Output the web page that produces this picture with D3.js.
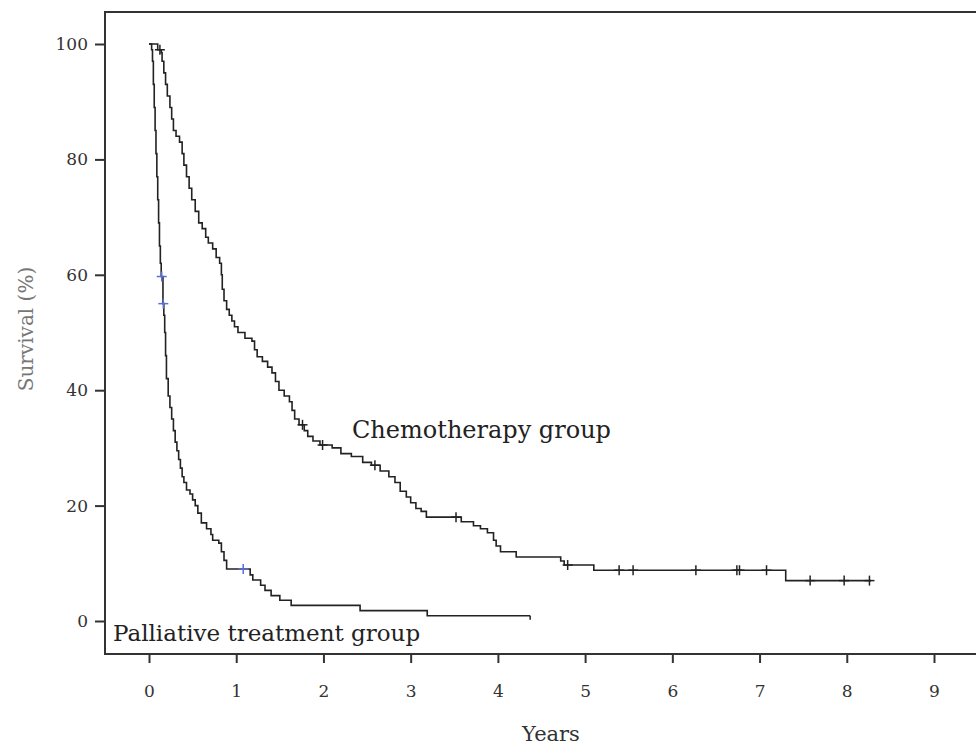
<!DOCTYPE html>
<html>
<head>
<meta charset="utf-8">
<script src="https://cdn.jsdelivr.net/npm/d3@7"></script>
<style>
  body { margin: 0; background: #fff; }
  text { font-family: 'DejaVu Serif', serif; }
</style>
</head>
<body>
<div id="chart"></div>
<script>
// Kaplan-Meier steps [years, survival %]
const chemoSteps = [
  [0, 100], [0.10, 99], [0.14, 98.5], [0.15, 97], [0.17, 95], [0.19, 93], [0.21, 91],
  [0.24, 89], [0.26, 87], [0.28, 85], [0.31, 84], [0.35, 83], [0.38, 81], [0.40, 79],
  [0.43, 77], [0.46, 75], [0.49, 73], [0.53, 71], [0.57, 69], [0.61, 68], [0.65, 66.5],
  [0.68, 65.5], [0.73, 64.5], [0.77, 63], [0.81, 62], [0.83, 60], [0.84, 57.5], [0.86, 55.5],
  [0.89, 54], [0.92, 53], [0.95, 52], [0.98, 51], [1.02, 50], [1.10, 49], [1.18, 48.5],
  [1.21, 47], [1.24, 45.8], [1.30, 45], [1.36, 44], [1.41, 43], [1.45, 41.5], [1.49, 40],
  [1.55, 39], [1.61, 38], [1.64, 36.5], [1.67, 35], [1.72, 34], [1.78, 33], [1.82, 32],
  [1.88, 31.2], [1.96, 30.5], [2.10, 30], [2.20, 29], [2.32, 28.5], [2.45, 27.5], [2.55, 27],
  [2.65, 26], [2.75, 25], [2.82, 24], [2.88, 22.5], [2.95, 21.5], [3.00, 20.5], [3.06, 19.5],
  [3.12, 19], [3.18, 18], [3.58, 17.2], [3.72, 16.5], [3.80, 16], [3.88, 15.3], [3.95, 14],
  [3.98, 13], [4.03, 12], [4.21, 11.1], [4.72, 10.4], [4.76, 9.7], [5.10, 8.8], [7.30, 7.0]
]
const chemoEnd = 8.28
const chemoCensor = [0.125, 1.76, 1.99, 2.59, 3.52, 4.80, 5.39, 5.55, 6.27, 6.74, 6.77, 7.08, 7.58, 7.97, 8.26]

const palliSteps = [
  [0, 100], [0.03, 99], [0.04, 97], [0.05, 93], [0.06, 89], [0.07, 85], [0.08, 81],
  [0.09, 77], [0.10, 73], [0.11, 69], [0.12, 65], [0.13, 62], [0.14, 59.7], [0.16, 55],
  [0.17, 53], [0.18, 50], [0.19, 46], [0.20, 42], [0.22, 39], [0.24, 37], [0.26, 35],
  [0.28, 33], [0.30, 31], [0.32, 29.5], [0.34, 28], [0.36, 26.5], [0.38, 25], [0.40, 24],
  [0.43, 22.7], [0.47, 22], [0.50, 21], [0.53, 20], [0.56, 18.7], [0.60, 17], [0.66, 16],
  [0.71, 15], [0.73, 14], [0.80, 13.5], [0.83, 12], [0.86, 10.5], [0.89, 9.0], [1.16, 8.0],
  [1.19, 7.1], [1.28, 6.2], [1.33, 5.3], [1.40, 4.4], [1.50, 3.6], [1.63, 2.7], [2.42, 1.8],
  [3.19, 0.9]
]
const palliEnd = 4.37
const palliCensor = [0.146, 0.164, 1.08]

const xTicks = [0, 1, 2, 3, 4, 5, 6, 7, 8, 9]
const yTicks = [0, 20, 40, 60, 80, 100]

const W = 976
const H = 745
const frame = { left: 105, top: 12, right: 976, bottom: 654 }

const svg = d3.select('#chart')
  .append('svg')
  .attr('width', W)
  .attr('height', H)

const x = d3.scaleLinear().domain([0, 9]).range([149, 934])
const y = d3.scaleLinear().domain([0, 100]).range([621, 44])

// frame lines
svg.append('path')
  .attr('d', 'M' + frame.right + ',' + frame.top + 'H' + frame.left + 'V' + frame.bottom + 'H' + frame.right)
  .attr('fill', 'none')
  .attr('stroke', '#333')
  .attr('stroke-width', 2)

// Y axis
const yAxis = svg.append('g')
  .attr('transform', 'translate(' + frame.left + ',0)')
  .call(d3.axisLeft(y).tickValues(yTicks).tickSize(10).tickPadding(7))
yAxis.select('.domain').remove()
yAxis.selectAll('line').attr('stroke', '#333').attr('stroke-width', 2)
yAxis.selectAll('text')
  .attr('fill', '#333')
  .style('font-size', '17px')
  .style('font-family', "'DejaVu Serif', serif")

// X axis
const xAxis = svg.append('g')
  .attr('transform', 'translate(0,' + frame.bottom + ')')
  .call(d3.axisBottom(x).tickValues(xTicks).tickSize(9).tickPadding(22))
xAxis.select('.domain').remove()
xAxis.selectAll('line').attr('stroke', '#333').attr('stroke-width', 2)
xAxis.selectAll('text')
  .attr('fill', '#333')
  .style('font-size', '17px')
  .style('font-family', "'DejaVu Serif', serif")

// axis titles
svg.append('text')
  .attr('x', 551)
  .attr('y', 741)
  .attr('text-anchor', 'middle')
  .attr('fill', '#333')
  .style('font-size', '21px')
  .text('Years')

svg.append('text')
  .attr('transform', 'translate(33,329) rotate(-90)')
  .attr('text-anchor', 'middle')
  .attr('fill', '#777')
  .style('font-size', '20px')
  .text('Survival (%)')

// survival curves
const line = d3.line()
  .x(function (d) { return x(d[0]) })
  .y(function (d) { return y(d[1]) })
  .curve(d3.curveStepAfter)

function survAt (steps, t) {
  let s = steps[0][1]
  steps.forEach(function (d) { if (d[0] <= t) s = d[1] })
  return s
}

function drawCurve (steps, end, censor, censorColor) {
  const pts = steps.concat([[end, steps[steps.length - 1][1]]])
  svg.append('path')
    .datum(pts)
    .attr('d', line)
    .attr('fill', 'none')
    .attr('stroke', '#222')
    .attr('stroke-width', 1.6)

  const g = svg.append('g')
  censor.forEach(function (t) {
    const cx = x(t)
    const cy = y(survAt(steps, t))
    g.append('line')
      .attr('x1', cx).attr('x2', cx)
      .attr('y1', cy - 5).attr('y2', cy + 5)
      .attr('stroke', censorColor).attr('stroke-width', 1.5)
    g.append('line')
      .attr('x1', cx - 5).attr('x2', cx + 5)
      .attr('y1', cy).attr('y2', cy)
      .attr('stroke', censorColor).attr('stroke-width', 1.5)
  })
}

drawCurve(chemoSteps, chemoEnd, chemoCensor, '#222')
drawCurve(palliSteps, palliEnd, palliCensor, '#5a6fd6')

// small end mark on the palliative curve
svg.append('line')
  .attr('x1', x(palliEnd)).attr('x2', x(palliEnd))
  .attr('y1', y(0.9)).attr('y2', y(0.9) + 4)
  .attr('stroke', '#222').attr('stroke-width', 1.5)

// group labels
svg.append('text')
  .attr('x', 352)
  .attr('y', 438)
  .attr('fill', '#222')
  .style('font-size', '24px')
  .text('Chemotherapy group')

svg.append('text')
  .attr('x', 113)
  .attr('y', 641)
  .attr('fill', '#222')
  .style('font-size', '23px')
  .text('Palliative treatment group')
</script>
</body>
</html>
